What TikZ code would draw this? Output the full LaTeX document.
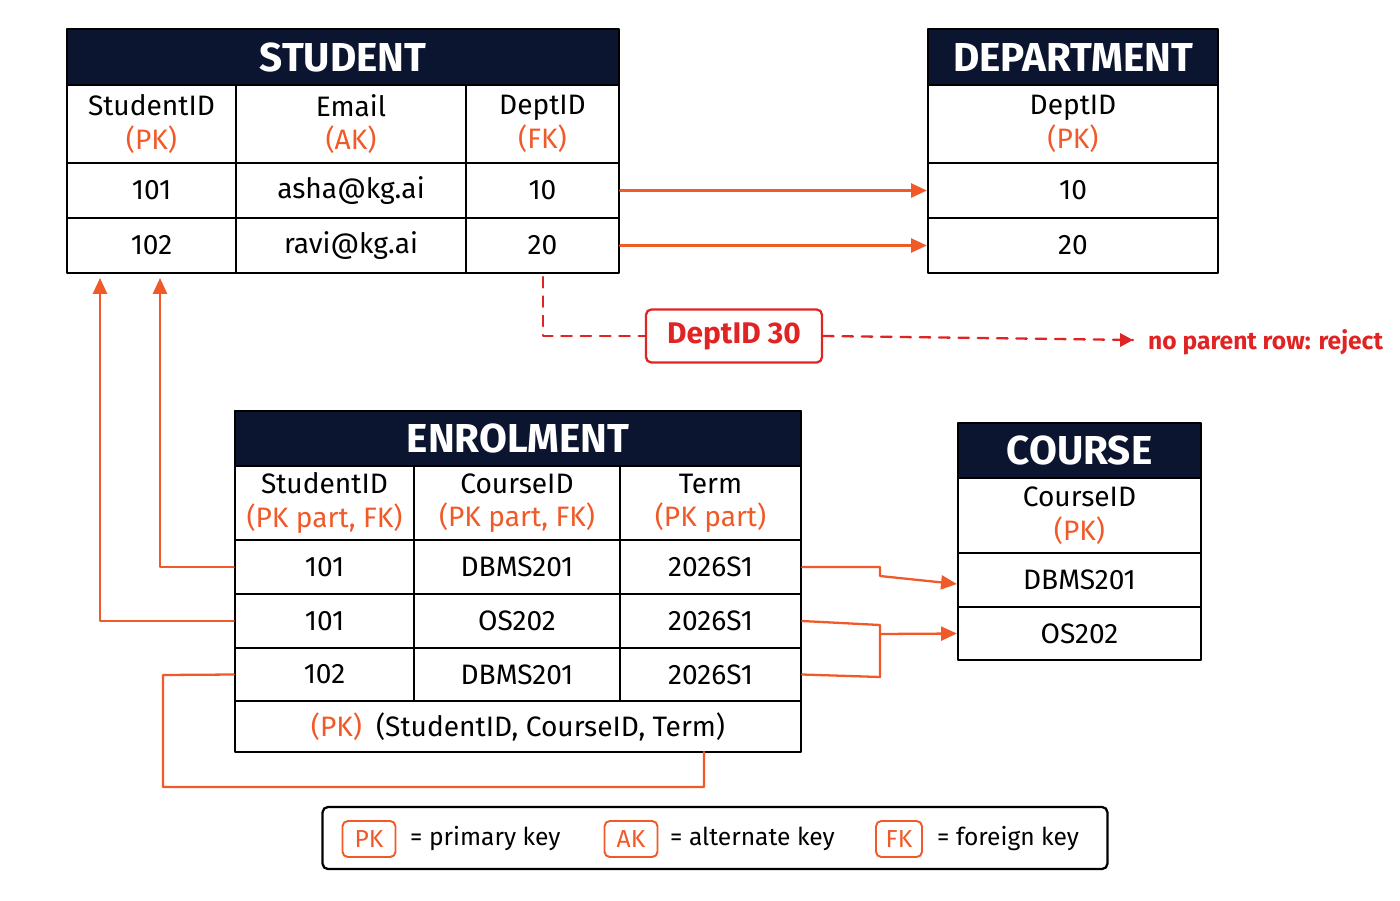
\documentclass[tikz,border=0pt]{standalone}
\usepackage{fontspec}
\setmainfont{Fira Sans}
\usetikzlibrary{arrows.meta}
\definecolor{navy}{HTML}{0B1530}
\definecolor{keyorange}{HTML}{F05A28}
\definecolor{rejred}{HTML}{E02424}
\newcommand\tcell[6]{\node[cell,minimum width={0.02cm*(#4-#2)},minimum height={0.02cm*(#5-#3)}] (#1) at ({(#2+#4)/2},{(#3+#5)/2}) {#6};}
\newcommand\thead[6]{\node[head,minimum width={0.02cm*(#4-#2)},minimum height={0.02cm*(#5-#3)}] (#1) at ({(#2+#4)/2},{(#3+#5)/2}) {#6};}
\newcommand\key[1]{\textcolor{keyorange}{#1}}
\begin{document}
\begin{tikzpicture}[x=0.02cm,y=-0.02cm,line cap=round,line join=round,
  cell/.style={draw=black,line width=1.3pt,inner sep=0pt,align=center,font=\fontsize{16}{19}\selectfont},
  head/.style={draw=black,fill=navy,line width=1.3pt,inner sep=0pt,text=white,font=\fontsize{23}{26}\selectfont\bfseries},
  fk/.style={draw=keyorange,line width=1.3pt,-{Triangle[length=9pt,width=8pt]}},
  rej/.style={draw=rejred,line width=1.3pt,dashed,dash pattern=on 6pt off 5pt},
  legkey/.style={draw=keyorange,line width=1.1pt,rounded corners=3pt,minimum width=1.06cm,minimum height=0.72cm,text=keyorange,font=\fontsize{14}{16}\selectfont}]
\useasboundingbox (0,0) rectangle (1400,900);
% student
\thead{sh}{67}{29}{619}{85}{STUDENT}
\tcell{sc1}{67}{85}{236}{163}{StudentID\\\key{(PK)}}
\tcell{sc2}{236}{85}{466}{163}{Email\\\key{(AK)}}
\tcell{sc3}{466}{85}{619}{163}{DeptID\\\key{(FK)}}
\tcell{sa1}{67}{163}{236}{218}{101}
\tcell{sa2}{236}{163}{466}{218}{asha@kg.ai}
\tcell{sa3}{466}{163}{619}{218}{10}
\tcell{sb1}{67}{218}{236}{273}{102}
\tcell{sb2}{236}{218}{466}{273}{ravi@kg.ai}
\tcell{sb3}{466}{218}{619}{273}{20}
% department
\thead{dh}{928}{29}{1218}{85}{DEPARTMENT}
\tcell{dc1}{928}{85}{1218}{163}{DeptID\\\key{(PK)}}
\tcell{da1}{928}{163}{1218}{218}{10}
\tcell{db1}{928}{218}{1218}{273}{20}
\draw[fk] (sa3.east) -- (da1.west);
\draw[fk] (sb3.east) -- (db1.west);
% rejected row
\node[draw=rejred,line width=1.3pt,rounded corners=3pt,minimum width=3.52cm,minimum height=1.06cm,text=rejred,font=\fontsize{17}{20}\selectfont\bfseries] (bad) at (734,336) {DeptID 30};
\node[anchor=west,text=rejred,font=\fontsize{14}{16}\selectfont\bfseries] (rejtxt) at (1142,342) {no parent row: reject};
\coordinate (rejend) at (1133,340);
\draw[rej] (543,277) |- (bad.west);
\draw[rej] (bad.east) -- (rejend);
\fill[rejred] (rejend) -- ++(-13,-7) -- ++(0,14) -- cycle;
% enrolment
\begin{scope}[every node/.append style={font=\fontsize{15}{18}\selectfont}]
\thead{eh}{235}{411}{801}{466}{ENROLMENT}
\tcell{ec1}{235}{466}{414}{540}{StudentID\\\key{(PK part, FK)}}
\tcell{ec2}{414}{466}{620}{540}{CourseID\\\key{(PK part, FK)}}
\tcell{ec3}{620}{466}{801}{540}{Term\\\key{(PK part)}}
\tcell{ea1}{235}{540}{414}{594}{101}
\tcell{ea2}{414}{540}{620}{594}{DBMS201}
\tcell{ea3}{620}{540}{801}{594}{2026S1}
\tcell{eb1}{235}{594}{414}{648}{101}
\tcell{eb2}{414}{594}{620}{648}{OS202}
\tcell{eb3}{620}{594}{801}{648}{2026S1}
\tcell{ed1}{235}{648}{414}{701}{102}
\tcell{ed2}{414}{648}{620}{701}{DBMS201}
\tcell{ed3}{620}{648}{801}{701}{2026S1}
\tcell{ef}{235}{701}{801}{752}{\key{(PK)}\enspace(StudentID, CourseID, Term)}
\end{scope}
\thead{eh}{235}{411}{801}{466}{ENROLMENT}
% course
\thead{ch}{958}{423}{1201}{478}{COURSE}
\tcell{cc1}{958}{478}{1201}{553}{CourseID\\\key{(PK)}}
\tcell{ca1}{958}{553}{1201}{607}{DBMS201}
\tcell{cb1}{958}{607}{1201}{660}{OS202}
% foreign keys
\draw[fk] (ea3.east) -- (880,567) -- (880,576) -- ([yshift=-0.08cm]ca1.west);
\draw[keyorange,line width=1.3pt] (eb3.east) -- (880,625) -- (880,677) -- (ed3.east);
\draw[fk] (880,634) -- (cb1.west);
\draw[fk] (ea1.west) -- (160,567) -- (160,278);
\draw[fk] (eb1.west) -- (100,621) -- (100,278);
\draw[keyorange,line width=1.3pt] (ed1.west) -- (163,675) -- (163,787) -- (704,787) -- (704,752);
% legend
\node[draw=black,line width=1.3pt,rounded corners=3pt,minimum width=15.7cm,minimum height=1.24cm] (legend) at (715,838) {};
\node[legkey] (lpk) at (369,839) {PK};
\node[anchor=west,font=\fontsize{14}{16}\selectfont] (lpkt) at (404,839) {= primary key};
\node[legkey] (lak) at (631,839) {AK};
\node[anchor=west,font=\fontsize{14}{16}\selectfont] (lakt) at (664,839) {= alternate key};
\node[legkey,minimum width=0.92cm] (lfk) at (899,839) {FK};
\node[anchor=west,font=\fontsize{14}{16}\selectfont] (lfkt) at (931,839) {= foreign key};
\end{tikzpicture}
\end{document}
